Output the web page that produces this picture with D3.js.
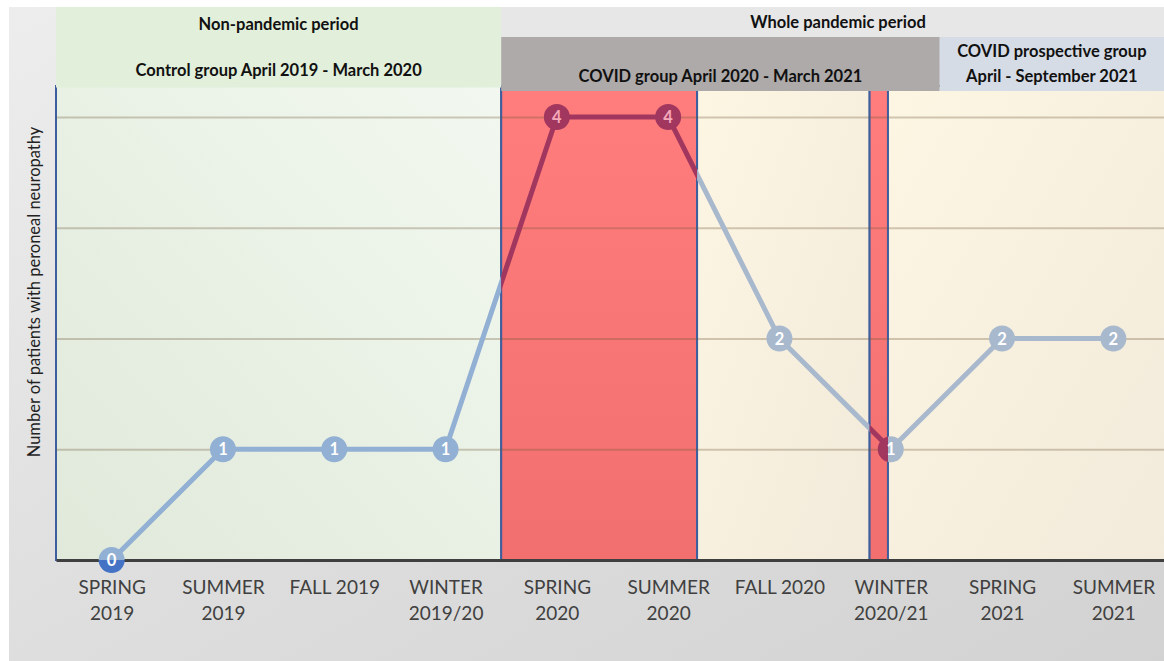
<!DOCTYPE html>
<html>
<head>
<meta charset="utf-8">
<script src="https://cdn.jsdelivr.net/npm/d3@7"></script>
<style>
  body { margin: 0; background: #fff; }
  svg { display: block; }
  text { font-family: Lato, "Open Sans", sans-serif; }
</style>
</head>
<body>
<svg id="canvas" width="1164" height="661"></svg>
<script>
// seasons on the x axis (one or two lines each)
let tickLabels = [
    ['SPRING', '2019'], ['SUMMER', '2019'], ['FALL 2019'], ['WINTER', '2019/20'],
    ['SPRING', '2020'], ['SUMMER', '2020'], ['FALL 2020'], ['WINTER', '2020/21'],
    ['SPRING', '2021'], ['SUMMER', '2021']
]

// number of patients with peroneal neuropathy per season
let patients = [0, 1, 1, 1, 4, 4, 2, 1, 2, 2]

let yTicks = [0, 1, 2, 3, 4]

// shaded periods, in season-index units
let bandKinds = ['control', 'peak', 'covid', 'peak', 'covid']
let bandFrom = [0, 4, 5.76, 7.31, 7.475]
let bandTo = [4, 5.76, 7.31, 7.475, 10]

// header boxes above the plot
let headerKinds = ['nonPandemic', 'whole', 'covidGroup', 'prospective']
let headerFrom = [0, 4, 4, 7.94]
let headerTo = [4, 10, 7.94, 10]
let headerLines = [
    ['Non-pandemic period', 'Control group April 2019 - March 2020'],
    ['Whole pandemic period'],
    ['COVID group April 2020 - March 2021'],
    ['COVID prospective group', 'April - September 2021']
]

let yTitle = 'Number of patients with peroneal neuropathy'

let canvas = d3.select('#canvas')
let width = 1164
let height = 661

let x = d3.scaleLinear().domain([0, 10]).range([56, 1169])
let y = d3.scaleLinear().domain([0, 4]).range([560, 117])
let plotTop = y(4.28)

let defs = canvas.append('defs')

let addGradient = (id, x1, y1, x2, y2, stops) => {
    let g = defs.append('linearGradient').attr('id', id)
        .attr('x1', x1).attr('y1', y1).attr('x2', x2).attr('y2', y2)
    stops.forEach((c, i) => g.append('stop').attr('offset', i / (stops.length - 1)).attr('stop-color', c))
}
addGradient('bg', 0, 0, 1, 1, ['#ededed', '#dedede', '#d2d2d2'])
addGradient('g-control', 1, 0, 0, 1, ['#f2f8ef', '#e0e9da'])  // green, light at top right
addGradient('g-peak', 0, 0, 0, 1, ['#ff7d7d', '#f26f6f'])
addGradient('g-covid', 0, 0, 1, 1, ['#fdf6e3', '#f2eada'])

let lineColor = { control: '#92b0d3', peak: '#a1365f', covid: '#a9b9cd', below: '#4472c4' }
let labelColor = { control: '#fff', peak: '#f4a8b8', covid: '#fff', below: '#fff' }
let headerFill = { nonPandemic: '#e2efda', whole: '#e7e7e7', covidGroup: '#aeaaaa', prospective: '#d6dce5' }

// chart background
canvas.append('rect')
    .attr('x', 9).attr('y', 7)
    .attr('width', width - 9).attr('height', height - 7)
    .attr('fill', 'url(#bg)')

let bands = bandKinds.map((k, i) => ({ kind: k, from: bandFrom[i], to: bandTo[i] }))

canvas.append('g').selectAll('rect')
    .data(bands)
    .enter()
    .append('rect')
    .attr('x', (b) => x(b.from))
    .attr('y', plotTop)
    .attr('width', (b) => x(b.to) - x(b.from))
    .attr('height', y(0) - plotTop)
    .attr('fill', (b) => 'url(#g-' + b.kind + ')')
    .attr('stroke', '#3f5e9d')
    .attr('stroke-width', 2)

// gridlines
let grid = canvas.append('g')
    .attr('transform', 'translate(' + x(0) + ',0)')
    .call(d3.axisLeft(y).tickValues(yTicks.slice(1)).tickSize(-(width - x(0))).tickFormat(''))
grid.select('.domain').remove()
grid.selectAll('line').attr('stroke', 'rgba(110,85,55,0.3)').attr('stroke-width', 2)

// x axis with the baseline
let xAxis = canvas.append('g')
    .attr('transform', 'translate(0,' + y(0) + ')')
    .call(d3.axisBottom(x).tickValues(tickLabels.map((t, i) => i + 0.5)).tickSize(0).tickFormat(''))
xAxis.select('.domain').attr('stroke', '#3f3f3f').attr('stroke-width', 3)
xAxis.selectAll('.tick text').remove()
xAxis.selectAll('.tick')
    .append('text')
    .attr('fill', '#404040')
    .attr('font-size', 19)
    .attr('text-anchor', 'middle')
    .each(function (d, i) {
        let t = d3.select(this)
        tickLabels[i].forEach((line, j) => {
            t.append('tspan').attr('x', 0).attr('y', 34 + j * 26).text(line)
        })
    })

// clip regions so the line takes the colour of the period it crosses
let clips = bands.map((b, i) => ({ id: 'clip' + i, kind: b.kind, x0: x(b.from), x1: x(b.to), y0: 0, y1: y(0) }))
clips.push({ id: 'clipBelow', kind: 'below', x0: 0, x1: width, y0: y(0), y1: height })

clips.forEach((c) => {
    defs.append('clipPath').attr('id', c.id)
        .append('rect')
        .attr('x', c.x0).attr('y', c.y0)
        .attr('width', c.x1 - c.x0).attr('height', c.y1 - c.y0)
})

let line = d3.line()
    .x((d, i) => x(i + 0.5))
    .y((d) => y(d))

clips.forEach((c) => {
    let g = canvas.append('g').attr('clip-path', 'url(#' + c.id + ')')
    g.append('path')
        .datum(patients)
        .attr('d', line)
        .attr('fill', 'none')
        .attr('stroke', lineColor[c.kind])
        .attr('stroke-width', 5)
    g.selectAll('circle')
        .data(patients)
        .enter()
        .append('circle')
        .attr('cx', (d, i) => x(i + 0.5))
        .attr('cy', (d) => y(d))
        .attr('r', 13)
        .attr('fill', lineColor[c.kind])
    g.selectAll('text')
        .data(patients)
        .enter()
        .append('text')
        .attr('x', (d, i) => x(i + 0.5))
        .attr('y', (d) => y(d) + 6)
        .attr('text-anchor', 'middle')
        .attr('font-size', 16.5)
        .attr('font-weight', 'bold')
        .attr('fill', labelColor[c.kind])
        .text((d) => d)
})

// header boxes
let headers = headerKinds.map((k, i) => ({ kind: k, from: headerFrom[i], to: headerTo[i], lines: headerLines[i] }))
let headerY = { nonPandemic: [7, 87.5], whole: [7, 37], covidGroup: [37, 91], prospective: [37, 91] }
let headerTextY = { nonPandemic: [24, 70], whole: [22], covidGroup: [76], prospective: [51, 76] }

let header = canvas.append('g').selectAll('g')
    .data(headers)
    .enter()
    .append('g')

header.append('rect')
    .attr('x', (h) => x(h.from))
    .attr('y', (h) => headerY[h.kind][0])
    .attr('width', (h) => Math.min(x(h.to), width) - x(h.from))
    .attr('height', (h) => headerY[h.kind][1] - headerY[h.kind][0])
    .attr('fill', (h) => headerFill[h.kind])

header.each(function (h) {
    let cx = (x(h.from) + Math.min(x(h.to), width)) / 2
    if (h.kind === 'whole') cx = 838
    h.lines.forEach((txt, j) => {
        d3.select(this).append('text')
            .attr('x', cx)
            .attr('y', headerTextY[h.kind][j] + 5.5)
            .attr('text-anchor', 'middle')
            .attr('font-size', 16.5)
            .attr('font-weight', 'bold')
            .attr('fill', '#111')
            .text(txt)
    })
})

// y axis title
canvas.append('text')
    .attr('transform', 'translate(40,' + 292 + ') rotate(-90)')
    .attr('text-anchor', 'middle')
    .attr('font-size', 16.5)
    .attr('fill', '#222')
    .text(yTitle)
</script>
</body>
</html>
